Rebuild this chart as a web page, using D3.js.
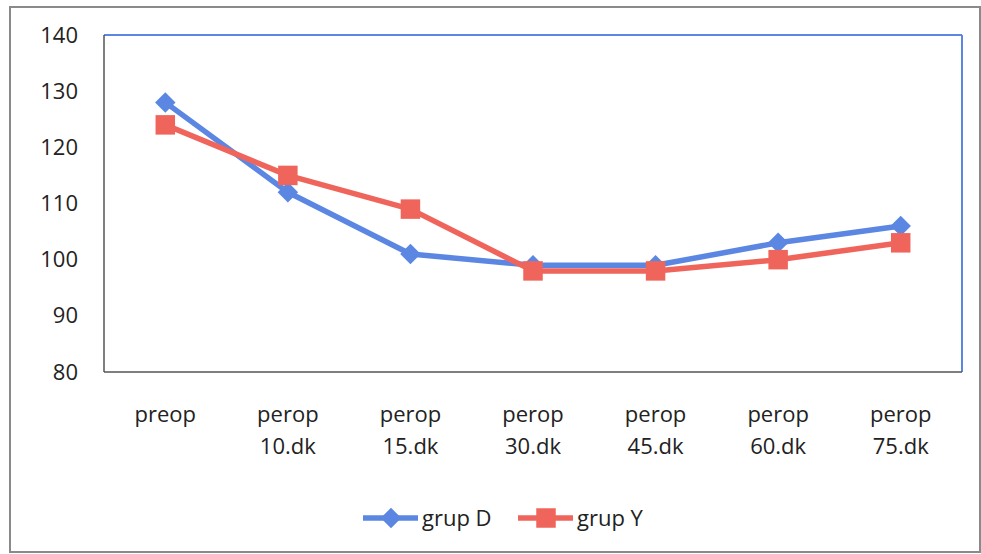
<!DOCTYPE html>
<html lang="en">
<head>
<meta charset="utf-8">
<title>grup D / grup Y</title>
<script src="https://d3js.org/d3.v7.min.js"></script>
<style>
  body { margin: 0; background: #fff; }
  text { font-family: "Open Sans", sans-serif; fill: #222; }
</style>
</head>
<body>
<script>
// data
var categories = ["preop", "perop 10.dk", "perop 15.dk", "perop 30.dk", "perop 45.dk", "perop 60.dk", "perop 75.dk"];
var grupD = [128, 112, 101, 99, 99, 103, 106];
var grupY = [124, 115, 109, 98, 98, 100, 103];
var yTicks = [80, 90, 100, 110, 120, 130, 140];

var W = 981, H = 554;
var margin = {top: 35, right: 19, bottom: 182, left: 104};
var width = W - margin.left - margin.right,
    height = H - margin.top - margin.bottom;

var blue = "#5b87e3", red = "#f0655b";

var svg = d3.select("body").append("svg")
    .attr("width", W)
    .attr("height", H);

// outer frame
svg.append("rect")
    .attr("x", 10).attr("y", 7)
    .attr("width", 970).attr("height", 545)
    .attr("fill", "none")
    .attr("stroke", "#8a8a8a")
    .attr("stroke-width", 2);

var g = svg.append("g").attr("transform", "translate(" + margin.left + "," + margin.top + ")");

var x = d3.scaleBand().domain(categories).range([0, width]);
var y = d3.scaleLinear().domain([80, 140]).range([height, 0]);

// plot frame: blue top/right, dark left/bottom
g.append("line").attr("x1", 0).attr("x2", width).attr("y1", 0).attr("y2", 0)
    .attr("stroke", blue).attr("stroke-width", 2);
g.append("line").attr("x1", width).attr("x2", width).attr("y1", 0).attr("y2", height)
    .attr("stroke", blue).attr("stroke-width", 2);
g.append("line").attr("x1", 0).attr("x2", 0).attr("y1", 0).attr("y2", height)
    .attr("stroke", "#555").attr("stroke-width", 1.5);
g.append("line").attr("x1", 0).attr("x2", width).attr("y1", height).attr("y2", height)
    .attr("stroke", "#555").attr("stroke-width", 1.5);

// y axis labels
var yAxis = g.append("g")
    .call(d3.axisLeft(y).tickValues(yTicks).tickSize(0).tickPadding(26));
yAxis.select(".domain").remove();
yAxis.selectAll("text")
    .attr("font-size", 22)
    .attr("font-family", "'Open Sans', sans-serif")
    .attr("fill", "#222");

// x axis labels (two lines)
var xAxis = g.append("g")
    .attr("transform", "translate(0," + height + ")")
    .call(d3.axisBottom(x).tickSize(0).tickFormat(""));
xAxis.select(".domain").remove();
xAxis.selectAll(".tick").each(function(d) {
  var parts = d.split(" ");
  var t = d3.select(this).append("text")
      .attr("text-anchor", "middle")
      .attr("font-size", 22)
      .attr("fill", "#222");
  parts.forEach(function(p, i) {
    t.append("tspan").attr("x", 0).attr("y", 50 + i * 32).text(p);
  });
});

var cx = function(d, i) { return x(categories[i]) + x.bandwidth() / 2; };
var line = d3.line().x(cx).y(function(d) { return y(d); });

var series = [
  {name: "grup D", values: grupD, color: blue, size: 210, rot: 45},
  {name: "grup Y", values: grupY, color: red, size: 380, rot: 0}
];

series.forEach(function(s) {
  g.append("path")
      .datum(s.values)
      .attr("d", line)
      .attr("fill", "none")
      .attr("stroke", s.color)
      .attr("stroke-width", 5.5)
      .attr("stroke-linejoin", "round");
  g.selectAll(null)
      .data(s.values)
      .enter().append("path")
      .attr("d", d3.symbol().type(d3.symbolSquare).size(s.size))
      .attr("transform", function(d, i) { return "translate(" + cx(d, i) + "," + y(d) + ") rotate(" + s.rot + ")"; })
      .attr("fill", s.color);
});

// legend
var legend = svg.append("g").attr("transform", "translate(363,518)");
var item = legend.selectAll("g")
    .data(series)
    .enter().append("g")
    .attr("transform", function(d, i) { return "translate(" + i * 155 + ",0)"; });
item.append("line")
    .attr("x1", 0).attr("x2", 55)
    .attr("stroke", function(d) { return d.color; })
    .attr("stroke-width", 5.5);
item.append("path")
    .attr("d", function(d) { return d3.symbol().type(d3.symbolSquare).size(d.size)(); })
    .attr("transform", function(d) { return "translate(28,0) rotate(" + d.rot + ")"; })
    .attr("fill", function(d) { return d.color; });
item.append("text")
    .attr("x", 59)
    .attr("dy", "0.35em")
    .attr("font-size", 22)
    .text(function(d) { return d.name; });
</script>
</body>
</html>
